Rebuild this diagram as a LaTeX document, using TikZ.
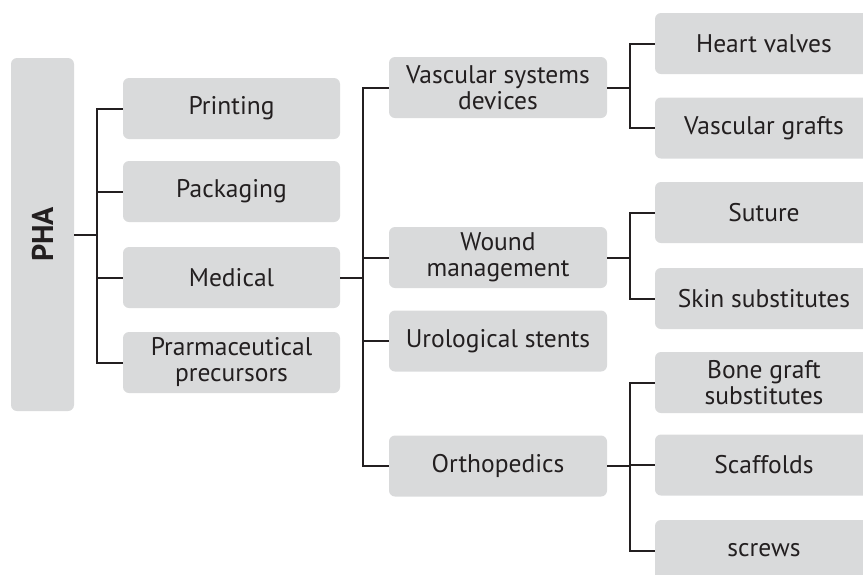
\documentclass[tikz,border=0pt]{standalone}
\usepackage{fontspec}
\setmainfont{PT Sans}
\definecolor{boxgray}{RGB}{217,218,219}
\definecolor{inkgray}{RGB}{35,31,32}
\tikzset{
	box/.style={fill=boxgray,rounded corners=6pt,minimum width=218pt,minimum height=61pt,
		inner sep=0pt,align=center,text=inkgray,font=\fontsize{25.5}{26}\selectfont},
	link/.style={draw=inkgray,line width=2pt},
}
\begin{document}
\begin{tikzpicture}[x=1pt,y=-1pt]
	\useasboundingbox (0,0) rectangle (863,574);
	\clip (0,0) rectangle (863,574);
	% root
	\node[box,minimum width=63pt,minimum height=353pt] (pha) at (42.5,234.5)
		{\rotatebox{90}{\fontsize{30}{32}\selectfont\bfseries PHA}};
	% first level
	\foreach \n/\y/\t in {print/108.5/Printing, pack/191.5/Packaging, med/277.5/Medical,
		pharm/362.5/{Prarmaceutical\\precursors}}
		\node[box,minimum width=217pt] (\n) at (231.5,\y) {\t};
	% medical uses
	\foreach \n/\y/\t in {vsd/87.5/{Vascular systems\\devices}, wound/257.5/{Wound\\management},
		uro/341/Urological stents, ortho/466/Orthopedics}
		\node[box] (\n) at (498,\y) {\t};
	% third level
	\foreach \n/\y/\t in {valve/43.5/Heart valves, graft/128/Vascular grafts, suture/212.5/Suture,
		skin/298.5/Skin substitutes, bone/382.5/{Bone graft\\substitutes}, scaf/465/Scaffolds,
		screw/550.5/screws}
		\node[box] (\n) at (764,\y) {\t};
	% connectors
	\coordinate (ta) at (97,0);
	\coordinate (tb) at (363,0);
	\coordinate (tc) at (630,0);
	\draw[link] (pha.east) -- (ta |- pha.east);
	\draw[link] (print.west) -- (ta |- print.west) -- (ta |- pharm.west) -- (pharm.west);
	\foreach \n in {pack,med} \draw[link] (ta |- \n.west) -- (\n.west);
	\draw[link] (med.east) -- (tb |- med.east);
	\draw[link] (vsd.west) -- (tb |- vsd.west) -- (tb |- ortho.west) -- (ortho.west);
	\foreach \n in {wound,uro} \draw[link] (tb |- \n.west) -- (\n.west);
	\draw[link] (vsd.east) -- (tc |- vsd.east);
	\draw[link] (valve.west) -- (tc |- valve.west) -- (tc |- graft.west) -- (graft.west);
	\draw[link] (wound.east) -- (tc |- wound.east);
	\draw[link] (suture.west) -- (tc |- suture.west) -- (tc |- skin.west) -- (skin.west);
	\draw[link] (ortho.east) -- (tc |- ortho.east);
	\draw[link] (bone.west) -- (tc |- bone.west) -- (tc |- screw.west) -- (screw.west);
	\draw[link] (tc |- scaf.west) -- (scaf.west);
\end{tikzpicture}
\end{document}
